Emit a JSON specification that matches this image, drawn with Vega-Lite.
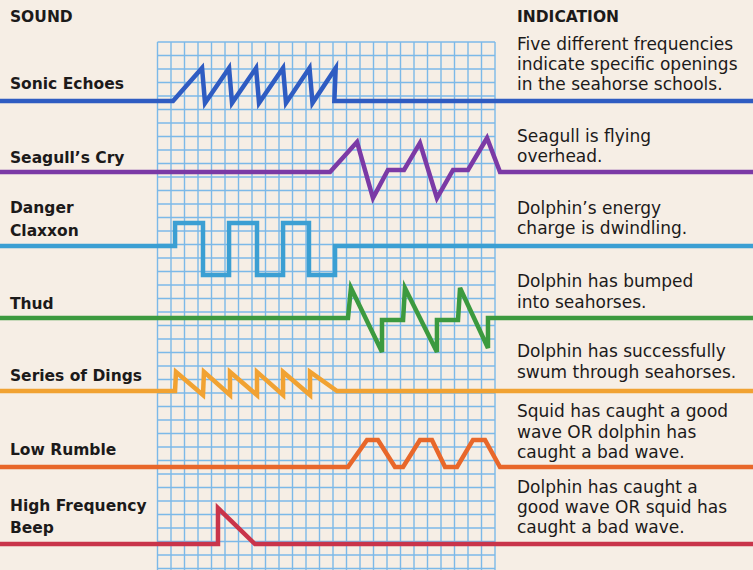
{
  "$schema": "https://vega.github.io/schema/vega-lite/v6.json",
  "width": 753,
  "height": 570,
  "autosize": "none",
  "padding": 0,
  "background": "#f6eee5",
  "config": {"view": {"stroke": null}},
  "layer": [
    {
      "data": {"values": [{"gx":0},{"gx":1},{"gx":2},{"gx":3},{"gx":4},{"gx":5},{"gx":6},{"gx":7},{"gx":8},{"gx":9},{"gx":10},{"gx":11},{"gx":12},{"gx":13},{"gx":14},{"gx":15},{"gx":16},{"gx":17},{"gx":18},{"gx":19},{"gx":20},{"gx":21},{"gx":22},{"gx":23},{"gx":24},{"gx":25}]},
      "mark": {"type": "rule", "color": "#7cb9e8", "strokeWidth": 1.4},
      "encoding": {
        "x": {"field": "gx", "type": "quantitative", "scale": {"domain": [-11.667, 44.111], "nice": false, "zero": false}, "axis": null},
        "y": {"datum": 0, "type": "quantitative", "scale": {"domain": [-3.111, 39.111], "nice": false, "zero": false, "reverse": true}, "axis": null},
        "y2": {"datum": 39.2}
      }
    },
    {
      "data": {"values": [{"gy":0},{"gy":1},{"gy":2},{"gy":3},{"gy":4},{"gy":5},{"gy":6},{"gy":7},{"gy":8},{"gy":9},{"gy":10},{"gy":11},{"gy":12},{"gy":13},{"gy":14},{"gy":15},{"gy":16},{"gy":17},{"gy":18},{"gy":19},{"gy":20},{"gy":21},{"gy":22},{"gy":23},{"gy":24},{"gy":25},{"gy":26},{"gy":27},{"gy":28},{"gy":29},{"gy":30},{"gy":31},{"gy":32},{"gy":33},{"gy":34},{"gy":35},{"gy":36},{"gy":37},{"gy":38},{"gy":39}]},
      "mark": {"type": "rule", "color": "#7cb9e8", "strokeWidth": 1.4},
      "encoding": {
        "y": {"field": "gy", "type": "quantitative", "axis": null},
        "x": {"datum": 0, "type": "quantitative"},
        "x2": {"datum": 25}
      }
    },
    {
      "data": {"values": [
        {"s":"Sonic","o":1,"x":-11.67,"y":4.37},{"s":"Sonic","o":2,"x":1.15,"y":4.37},{"s":"Sonic","o":3,"x":3.30,"y":1.93},{"s":"Sonic","o":4,"x":3.52,"y":4.52},{"s":"Sonic","o":5,"x":5.30,"y":1.93},{"s":"Sonic","o":6,"x":5.52,"y":4.52},{"s":"Sonic","o":7,"x":7.30,"y":1.93},{"s":"Sonic","o":8,"x":7.52,"y":4.52},{"s":"Sonic","o":9,"x":9.30,"y":1.93},{"s":"Sonic","o":10,"x":9.52,"y":4.52},{"s":"Sonic","o":11,"x":11.26,"y":1.93},{"s":"Sonic","o":12,"x":11.48,"y":4.52},{"s":"Sonic","o":13,"x":13.2,"y":1.93},{"s":"Sonic","o":14,"x":13.1,"y":4.37},{"s":"Sonic","o":15,"x":44.11,"y":4.37},
        {"s":"Seagull","o":1,"x":-11.67,"y":9.63},{"s":"Seagull","o":2,"x":12.78,"y":9.63},{"s":"Seagull","o":3,"x":14.78,"y":7.41},{"s":"Seagull","o":4,"x":15.96,"y":11.56},{"s":"Seagull","o":5,"x":17.07,"y":9.48},{"s":"Seagull","o":6,"x":18.26,"y":9.48},{"s":"Seagull","o":7,"x":19.44,"y":7.48},{"s":"Seagull","o":8,"x":20.70,"y":11.56},{"s":"Seagull","o":9,"x":21.89,"y":9.48},{"s":"Seagull","o":10,"x":23.0,"y":9.48},{"s":"Seagull","o":11,"x":24.41,"y":7.11},{"s":"Seagull","o":12,"x":25.37,"y":9.63},{"s":"Seagull","o":13,"x":44.11,"y":9.63},
        {"s":"Claxxon","o":1,"x":-11.67,"y":15.11},{"s":"Claxxon","o":2,"x":1.30,"y":15.11},{"s":"Claxxon","o":3,"x":1.30,"y":13.41},{"s":"Claxxon","o":4,"x":3.37,"y":13.41},{"s":"Claxxon","o":5,"x":3.37,"y":17.26},{"s":"Claxxon","o":6,"x":5.30,"y":17.26},{"s":"Claxxon","o":7,"x":5.30,"y":13.41},{"s":"Claxxon","o":8,"x":7.37,"y":13.41},{"s":"Claxxon","o":9,"x":7.37,"y":17.26},{"s":"Claxxon","o":10,"x":9.30,"y":17.26},{"s":"Claxxon","o":11,"x":9.30,"y":13.41},{"s":"Claxxon","o":12,"x":11.22,"y":13.41},{"s":"Claxxon","o":13,"x":11.22,"y":17.26},{"s":"Claxxon","o":14,"x":13.15,"y":17.26},{"s":"Claxxon","o":15,"x":13.15,"y":15.11},{"s":"Claxxon","o":16,"x":44.11,"y":15.11},
        {"s":"Thud","o":1,"x":-11.67,"y":20.44},{"s":"Thud","o":2,"x":14.11,"y":20.44},{"s":"Thud","o":3,"x":14.33,"y":18.22},{"s":"Thud","o":4,"x":16.63,"y":22.96},{"s":"Thud","o":5,"x":16.63,"y":20.59},{"s":"Thud","o":6,"x":18.19,"y":20.59},{"s":"Thud","o":7,"x":18.33,"y":18.22},{"s":"Thud","o":8,"x":20.70,"y":22.96},{"s":"Thud","o":9,"x":20.70,"y":20.59},{"s":"Thud","o":10,"x":22.26,"y":20.59},{"s":"Thud","o":11,"x":22.41,"y":18.22},{"s":"Thud","o":12,"x":24.48,"y":22.67},{"s":"Thud","o":13,"x":24.48,"y":20.44},{"s":"Thud","o":14,"x":44.11,"y":20.44},
        {"s":"Dings","o":1,"x":-11.67,"y":25.85},{"s":"Dings","o":2,"x":1.30,"y":25.85},{"s":"Dings","o":3,"x":1.37,"y":24.44},{"s":"Dings","o":4,"x":3.37,"y":26.15},{"s":"Dings","o":5,"x":3.44,"y":24.44},{"s":"Dings","o":6,"x":5.37,"y":26.15},{"s":"Dings","o":7,"x":5.37,"y":24.44},{"s":"Dings","o":8,"x":7.37,"y":26.15},{"s":"Dings","o":9,"x":7.37,"y":24.44},{"s":"Dings","o":10,"x":9.30,"y":26.15},{"s":"Dings","o":11,"x":9.30,"y":24.44},{"s":"Dings","o":12,"x":11.30,"y":26.15},{"s":"Dings","o":13,"x":11.30,"y":24.44},{"s":"Dings","o":14,"x":13.30,"y":25.85},{"s":"Dings","o":15,"x":44.11,"y":25.85},
        {"s":"Rumble","o":1,"x":-11.67,"y":31.48},{"s":"Rumble","o":2,"x":14.11,"y":31.48},{"s":"Rumble","o":3,"x":15.52,"y":29.48},{"s":"Rumble","o":4,"x":16.33,"y":29.48},{"s":"Rumble","o":5,"x":17.59,"y":31.48},{"s":"Rumble","o":6,"x":18.19,"y":31.48},{"s":"Rumble","o":7,"x":19.44,"y":29.48},{"s":"Rumble","o":8,"x":20.33,"y":29.48},{"s":"Rumble","o":9,"x":21.30,"y":31.48},{"s":"Rumble","o":10,"x":22.19,"y":31.48},{"s":"Rumble","o":11,"x":23.37,"y":29.48},{"s":"Rumble","o":12,"x":24.26,"y":29.48},{"s":"Rumble","o":13,"x":25.37,"y":31.48},{"s":"Rumble","o":14,"x":44.11,"y":31.48},
        {"s":"Beep","o":1,"x":-11.67,"y":37.19},{"s":"Beep","o":2,"x":4.48,"y":37.19},{"s":"Beep","o":3,"x":4.48,"y":34.52},{"s":"Beep","o":4,"x":7.22,"y":37.19},{"s":"Beep","o":5,"x":44.11,"y":37.19}
      ]},
      "mark": {"type": "line", "strokeWidth": 4.5, "strokeJoin": "miter", "strokeCap": "butt"},
      "encoding": {
        "x": {"field": "x", "type": "quantitative"},
        "y": {"field": "y", "type": "quantitative"},
        "order": {"field": "o", "type": "quantitative"},
        "color": {"field": "s", "type": "nominal", "legend": null,
          "scale": {"domain": ["Sonic","Seagull","Claxxon","Thud","Dings","Rumble","Beep"],
                    "range": ["#2f5cc2","#7b3aa6","#3b9fd3","#3c9a3f","#f1a232","#e8672a","#c9344a"]}}
      }
    },
    {
      "data": {"values": [
        {"t":"SOUND","x":-10.93,"y":-1.85},
        {"t":"INDICATION","x":26.63,"y":-1.85},
        {"t":"Sonic Echoes","x":-10.93,"y":3.11},
        {"t":"Seagull’s Cry","x":-10.93,"y":8.59},
        {"t":"Danger","x":-10.93,"y":12.30},
        {"t":"Claxxon","x":-10.93,"y":14.0},
        {"t":"Thud","x":-10.93,"y":19.41},
        {"t":"Series of Dings","x":-10.93,"y":24.74},
        {"t":"Low Rumble","x":-10.93,"y":30.22},
        {"t":"High Frequency","x":-10.93,"y":34.37},
        {"t":"Beep","x":-10.93,"y":36.0}
      ]},
      "mark": {"type": "text", "align": "left", "baseline": "middle", "font": "DejaVu Sans", "fontWeight": "bold", "fontSize": 15.5, "color": "#1c1a1a"},
      "encoding": {
        "x": {"field": "x", "type": "quantitative"},
        "y": {"field": "y", "type": "quantitative"},
        "text": {"field": "t"}
      }
    },
    {
      "data": {"values": [
        {"t":"Five different frequencies","x":26.63,"y":0.22},
        {"t":"indicate specific openings","x":26.63,"y":1.70},
        {"t":"in the seahorse schools.","x":26.63,"y":3.19},
        {"t":"Seagull is flying","x":26.63,"y":7.04},
        {"t":"overhead.","x":26.63,"y":8.52},
        {"t":"Dolphin’s energy","x":26.63,"y":12.37},
        {"t":"charge is dwindling.","x":26.63,"y":13.85},
        {"t":"Dolphin has bumped","x":26.63,"y":17.81},
        {"t":"into seahorses.","x":26.63,"y":19.30},
        {"t":"Dolphin has successfully","x":26.63,"y":22.96},
        {"t":"swum through seahorses.","x":26.63,"y":24.52},
        {"t":"Squid has caught a good","x":26.63,"y":27.44},
        {"t":"wave OR dolphin has","x":26.63,"y":28.96},
        {"t":"caught a bad wave.","x":26.63,"y":30.44},
        {"t":"Dolphin has caught a","x":26.63,"y":33.04},
        {"t":"good wave OR squid has","x":26.63,"y":34.52},
        {"t":"caught a bad wave.","x":26.63,"y":36.0}
      ]},
      "mark": {"type": "text", "align": "left", "baseline": "middle", "font": "DejaVu Sans", "fontSize": 17, "color": "#1c1a1a"},
      "encoding": {
        "x": {"field": "x", "type": "quantitative"},
        "y": {"field": "y", "type": "quantitative"},
        "text": {"field": "t"}
      }
    }
  ]
}
